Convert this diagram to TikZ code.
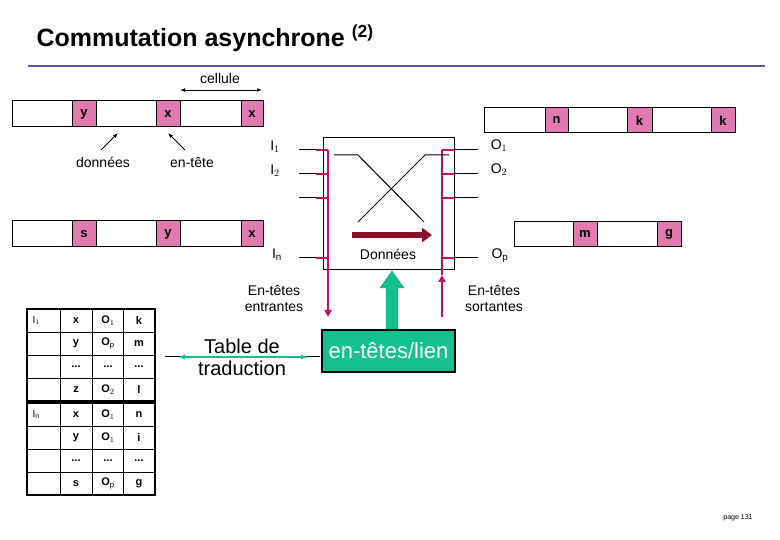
\documentclass[tikz,border=0pt]{standalone}
\usepackage{fontspec}
\setmainfont{Liberation Sans}
\usetikzlibrary{arrows.meta}
\definecolor{pinkc}{HTML}{E07AB0}
\definecolor{mag}{HTML}{C0106A}
\definecolor{teal}{HTML}{14C08E}
\definecolor{dred}{HTML}{8B1028}
\definecolor{blueline}{HTML}{5A5A9A}
\newcommand\myrow[5]{%
  \node[font=\fontsize{10}{11}\selectfont,anchor=west] at (29,#1) {#2};
  \node[tbl] at (76,#1) {#3};
  \node[tbl] at (108,#1) {#4};
  \node[tbl] at (139,#1) {#5};}
\newcommand\mygrid[1]{%
  \draw[line width=1.2pt] (27,#1) rectangle (155,#1+92);
  \foreach \xx in {60,92,123} \draw (\xx,#1) -- (\xx,#1+92);
  \foreach \kk in {1,2,3} \draw (27,#1+23*\kk) -- (155,#1+23*\kk);}
\begin{document}
\begin{tikzpicture}[x=1pt,y=-1pt,
  cellbox/.style={draw,line width=1pt},
  pk/.style={draw,line width=1pt,fill=pinkc,font=\bfseries\fontsize{13}{14}\selectfont},
  lbl/.style={font=\fontsize{14}{16}\selectfont},
  mg/.style={mag,line width=2pt},
  tbl/.style={font=\fontsize{11}{12}\selectfont\bfseries}]
\useasboundingbox (0,0) rectangle (780,540);
\node[font=\bfseries\fontsize{25}{28}\selectfont,anchor=west] (title) at (33,38) {Commutation asynchrone \textsuperscript{(2)}};
\draw[blueline,line width=2pt] (28,66) -- (765,66);
% cellule
\node[lbl] (cel) at (220,78) {cellule};
\coordinate (c1) at (180,90); \coordinate (c2) at (262,90);
\draw[{Latex[length=5pt]}-{Latex[length=5pt]},thick] (c1) -- (c2);
% row 1
\draw[cellbox] (12,101) rectangle (263,127);
\node[pk,minimum width=24pt,minimum height=26pt] (r1a) at (84,114) {y};
\node[pk,minimum width=24pt,minimum height=26pt] (r1b) at (168,114) {x};
\node[pk,minimum width=22pt,minimum height=26pt] (r1c) at (252,114) {x};
\node[lbl] (don) at (103,162) {données};
\node[lbl] (ent) at (192,162) {en-tête};
\coordinate (d0) at (118,133); \coordinate (e0) at (168,133);
\draw[-{Latex[length=5pt]},thick] (101,150) -- (d0);
\draw[-{Latex[length=5pt]},thick] (185,150) -- (e0);
% row 2
\draw[cellbox] (12,221) rectangle (263,247);
\node[pk,minimum width=24pt,minimum height=26pt] (r2a) at (84,234) {s};
\node[pk,minimum width=24pt,minimum height=26pt] (r2b) at (168,234) {y};
\node[pk,minimum width=22pt,minimum height=26pt] (r2c) at (252,234) {x};
% switch
\node[draw,line width=1pt,minimum width=131pt,minimum height=132pt] (sw) at (388.5,204) {};
\foreach \yy in {150,174,198,258}{
  \draw[line width=1pt] (299,\yy) -- (323,\yy);
  \draw[line width=1pt] (454,\yy) -- (478,\yy);
  \draw[mg] (316,\yy) -- (328,\yy);
  \draw[mg] (442,\yy) -- (454,\yy);
}
\draw[mg,-{Triangle[length=7pt,width=7pt]}] (328,150) -- (328,317);
\draw[mg,{Triangle[length=7pt,width=7pt]}-] (442,275) -- (442,317);
\draw[mg] (442,150) -- (442,275);
\node[lbl] (i1) at (275,147) {I$_1$};
\node[lbl] (i2) at (275,171) {I$_2$};
\node[lbl] (in) at (277,255) {I$_\mathrm{n}$};
\node[lbl] (o1) at (499,146) {O$_1$};
\node[lbl] (o2) at (499,170) {O$_2$};
\node[lbl] (op) at (500,256) {O$_\mathrm{p}$};
\draw[line width=1pt] (334,155) -- (358,155) -- (424,222);
\draw[line width=1pt] (449,155) -- (425,155) -- (358,222);
\draw[dred,line width=6pt,-{Triangle[length=10pt,width=14pt]}] (352,235) -- (432,235);
\node[lbl] (dn) at (388,254) {Données};
% green
\node[draw,line width=1.5pt,fill=teal,minimum width=133pt,minimum height=42pt,text=white,font=\fontsize{22}{24}\selectfont] (lien) at (388.5,351) {en-têtes/lien};
\draw[teal!80!black,fill=teal] (386,329) -- (386,288) -- (380,288) -- (392,271) -- (404,288) -- (398,288) -- (398,329) -- cycle;
\node[lbl,align=center] (ee) at (274,298) {En-têtes\\entrantes};
\node[lbl,align=center] (es) at (494,298) {En-têtes\\sortantes};
% right cells
\draw[cellbox] (484,108) rectangle (735,133);
\node[pk,minimum width=23pt,minimum height=25pt] (q1) at (556.5,120.5) {n};
\node[pk,minimum width=25pt,minimum height=25pt] (q2) at (639.5,120.5) {k};
\node[pk,minimum width=24pt,minimum height=25pt] (q3) at (723,120.5) {k};
\draw[cellbox] (514,222) rectangle (681,247);
\node[pk,minimum width=24pt,minimum height=25pt] (q4) at (585,234.5) {m};
\node[pk,minimum width=24pt,minimum height=25pt] (q5) at (669,234.5) {g};
% table de traduction
\node[font=\fontsize{20}{22}\selectfont,align=center] (td) at (242,357) {Table de\\traduction};
\coordinate (ta) at (165,357); \coordinate (tb) at (320,357);
\draw[line width=1pt] (ta) -- (tb);
\draw[teal,line width=2pt,{Latex[length=7pt]}-{Latex[length=7pt]}] (178,357) -- (308,357);
% tables
\mygrid{309}
\myrow{320.5}{I$_1$}{x}{O$_1$}{k}
\myrow{343.5}{}{y}{O$_\mathrm{p}$}{m}
\myrow{366.5}{}{...}{...}{...}
\myrow{389.5}{}{z}{O$_2$}{l}
\mygrid{403}
\myrow{414.5}{I$_\mathrm{n}$}{x}{O$_1$}{n}
\myrow{437.5}{}{y}{O$_1$}{i}
\myrow{460.5}{}{...}{...}{...}
\myrow{483.5}{}{s}{O$_\mathrm{p}$}{g}
\node[font=\fontsize{7}{8}\selectfont] (pg) at (738,518) {page 131};
\end{tikzpicture}
\end{document}
